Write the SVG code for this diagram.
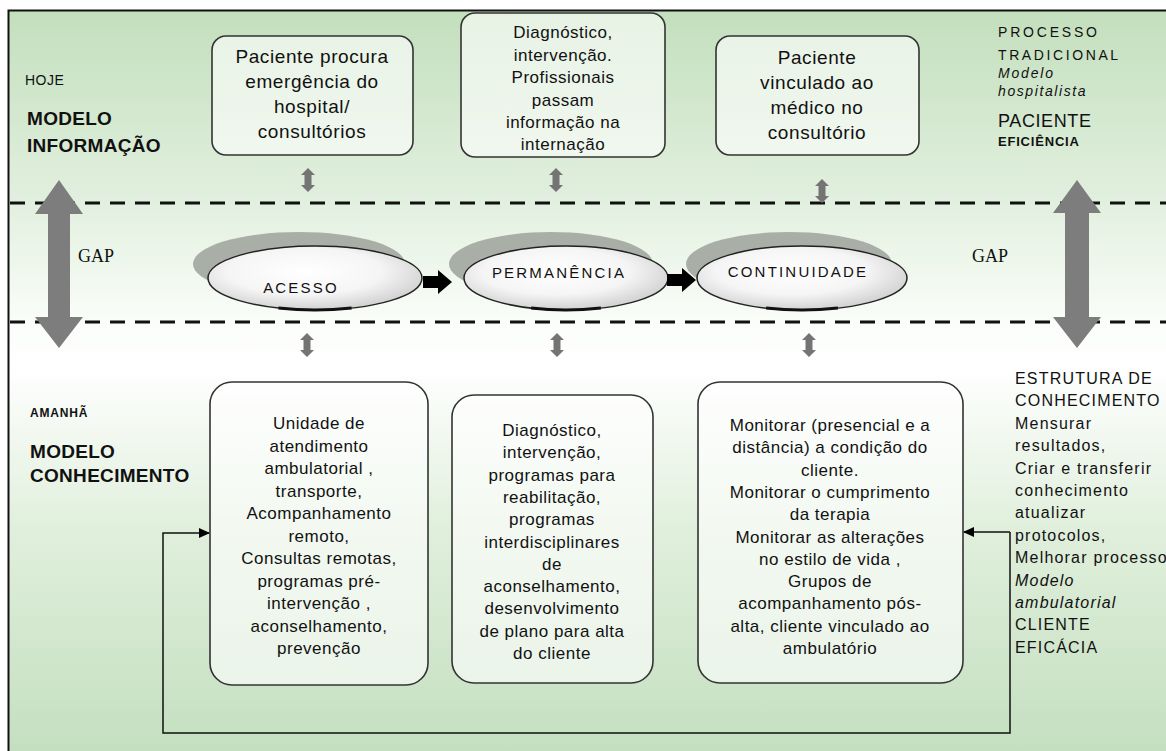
<svg xmlns="http://www.w3.org/2000/svg" width="1166" height="751" viewBox="0 0 1166 751">
<defs>
  <linearGradient id="bg" gradientUnits="userSpaceOnUse" x1="0" y1="11" x2="0" y2="751">
    <stop offset="0" stop-color="#c3dfbd"/>
    <stop offset="0.26" stop-color="#e2f0df"/>
    <stop offset="0.42" stop-color="#fafdf9"/>
    <stop offset="0.48" stop-color="#ffffff"/>
    <stop offset="0.7" stop-color="#e0efdc"/>
    <stop offset="1" stop-color="#c4dfc0"/>
  </linearGradient>
  <radialGradient id="ellg" cx="0.45" cy="0.4" r="0.6">
    <stop offset="0" stop-color="#ffffff"/>
    <stop offset="0.6" stop-color="#f5f5f5"/>
    <stop offset="1" stop-color="#d2d2d2"/>
  </radialGradient>
  <marker id="ah" markerWidth="11" markerHeight="10" refX="10" refY="5" orient="auto" markerUnits="userSpaceOnUse">
    <path d="M0,0 L11,5 L0,10 Z" fill="#000"/>
  </marker>
  <path id="dbl" d="M0,-12 L7,-5 L3.5,-5 L3.5,5 L7,5 L0,12 L-7,5 L-3.5,5 L-3.5,-5 L-7,-5 Z"/>
  <path id="blk" d="M0,-6 L15,-6 L15,-12 L29,0 L15,12 L15,6 L0,6 Z"/>
</defs>
<style>
  .t { font-family: "Liberation Sans", Arial, sans-serif; fill: #111; }
  .bx { font-size: 17px; letter-spacing: 0.5px; text-anchor: middle; }
  .tb { font-size: 19px; letter-spacing: 0.6px; text-anchor: middle; }
  .rt { font-size: 16px; letter-spacing: 1.2px; }
  .hd { font-size: 19px; font-weight: bold; letter-spacing: 0.3px; }
  .box { fill: #ffffff; fill-opacity: 0.6; stroke: #333; stroke-width: 1.6; }
  .dash { stroke: #111; stroke-width: 3; stroke-dasharray: 15 10; fill: none; }
  .gap { fill: #7d7d7d; }
  .sm { fill: #747474; }
  .ell { fill: url(#ellg); stroke: #222; stroke-width: 1.5; }
  .shd { fill: #a9aea7; }
  .ebot { fill: none; stroke: #111; stroke-width: 3; }
  .et { font-size: 15px; letter-spacing: 2.2px; text-anchor: middle; }
  .conn { fill: none; stroke: #111; stroke-width: 1.5; }
  .gapt { font-family: "Liberation Serif", "Times New Roman", serif; font-size: 18px; fill: #111; }
</style>

<!-- background and frame -->
<rect x="9" y="11" width="1157" height="740" fill="url(#bg)"/>
<path d="M8.5,751 L8.5,10.5 L1166,10.5" fill="none" stroke="#111" stroke-width="2"/>

<!-- dashed boundaries -->
<g id="boundaries">
  <line class="dash" x1="10" y1="203" x2="1166" y2="203"/>
  <line class="dash" x1="10" y1="322" x2="1166" y2="322"/>
</g>

<!-- side labels -->
<g id="label-hoje">
  <text class="t" x="25" y="85" font-size="14" letter-spacing="0.5">HOJE</text>
  <text class="t hd" x="27" y="125">MODELO</text>
  <text class="t hd" x="27" y="152">INFORMAÇÃO</text>
</g>
<g id="label-amanha">
  <text class="t" x="30" y="417" font-size="12" font-weight="bold" letter-spacing="0.8">AMANHÃ</text>
  <text class="t hd" x="30" y="458">MODELO</text>
  <text class="t hd" x="30" y="482">CONHECIMENTO</text>
</g>
<g id="label-tradicional">
  <text class="t" x="998" y="37" font-size="14" letter-spacing="2.8">PROCESSO</text>
  <text class="t" x="998" y="60" font-size="14" letter-spacing="2.6">TRADICIONAL</text>
  <text class="t" x="998" y="78" font-size="14" font-style="italic" letter-spacing="1.8">Modelo</text>
  <text class="t" x="998" y="96" font-size="14" font-style="italic" letter-spacing="1.6">hospitalista</text>
  <text class="t" x="998" y="127" font-size="18" letter-spacing="0.6">PACIENTE</text>
  <text class="t" x="998" y="146" font-size="13" font-weight="bold" letter-spacing="0.8">EFICIÊNCIA</text>
</g>
<g id="label-estrutura">
  <text class="t rt" x="1015" y="384">ESTRUTURA DE</text>
  <text class="t rt" x="1015" y="406">CONHECIMENTO</text>
  <text class="t rt" x="1015" y="429">Mensurar</text>
  <text class="t rt" x="1015" y="451">resultados,</text>
  <text class="t rt" x="1015" y="474">Criar e transferir</text>
  <text class="t rt" x="1015" y="496">conhecimento</text>
  <text class="t rt" x="1015" y="518">atualizar</text>
  <text class="t rt" x="1015" y="541">protocolos,</text>
  <text class="t rt" x="1015" y="563">Melhorar processo</text>
  <text class="t rt" x="1015" y="586" font-style="italic">Modelo</text>
  <text class="t rt" x="1015" y="608" font-style="italic">ambulatorial</text>
  <text class="t rt" x="1015" y="630" letter-spacing="2">CLIENTE</text>
  <text class="t rt" x="1015" y="653" letter-spacing="2">EFICÁCIA</text>
</g>

<!-- GAP arrows -->
<g id="gap-left">
  <path class="gap" d="M59,180 L83,214 L70,214 L70,317 L83,317 L59,348 L35,317 L48,317 L48,214 L35,214 Z"/>
  <text class="gapt" x="78" y="262">GAP</text>
</g>
<g id="gap-right">
  <path class="gap" d="M1077,180 L1101,213 L1089,213 L1089,317 L1101,317 L1077,348 L1053,317 L1065,317 L1065,213 L1053,213 Z"/>
  <text class="gapt" x="972" y="262">GAP</text>
</g>

<!-- top boxes -->
<g id="top-acesso">
  <rect class="box" x="212" y="36" width="201" height="119" rx="14"/>
  <text class="t tb" x="312" y="63">Paciente procura</text>
  <text class="t tb" x="312" y="88">emergência do</text>
  <text class="t tb" x="312" y="113">hospital/</text>
  <text class="t tb" x="312" y="138">consultórios</text>
</g>
<g id="top-permanencia">
  <rect class="box" x="461" y="13" width="204" height="144" rx="14"/>
  <text class="t bx" x="563" y="38">Diagnóstico,</text>
  <text class="t bx" x="563" y="61">intervenção.</text>
  <text class="t bx" x="563" y="83">Profissionais</text>
  <text class="t bx" x="563" y="106">passam</text>
  <text class="t bx" x="563" y="128">informação na</text>
  <text class="t bx" x="563" y="150">internação</text>
</g>
<g id="top-continuidade">
  <rect class="box" x="716" y="36" width="203" height="119" rx="14"/>
  <text class="t tb" x="817" y="64">Paciente</text>
  <text class="t tb" x="817" y="89">vinculado ao</text>
  <text class="t tb" x="817" y="114">médico no</text>
  <text class="t tb" x="817" y="139">consultório</text>
</g>

<!-- small double arrows -->
<g id="small-arrows">
  <use href="#dbl" class="sm" x="308" y="180"/>
  <use href="#dbl" class="sm" x="556" y="180"/>
  <use href="#dbl" class="sm" x="822" y="191"/>
  <use href="#dbl" class="sm" x="307" y="345"/>
  <use href="#dbl" class="sm" x="557" y="345"/>
  <use href="#dbl" class="sm" x="809" y="345"/>
</g>

<!-- ellipses -->
<g id="acesso">
  <ellipse class="shd" cx="299" cy="264" rx="106" ry="32"/>
  <ellipse class="ell" cx="315" cy="278" rx="107" ry="32"/>
  <path class="ebot" d="M278.4,308.1 A107,32 0 0 0 351.6,308.1"/>
  <text class="t et" x="301" y="293">ACESSO</text>
</g>
<g id="permanencia">
  <ellipse class="shd" cx="551" cy="264" rx="102" ry="32"/>
  <ellipse class="ell" cx="566" cy="278" rx="102" ry="32"/>
  <path class="ebot" d="M531.1,308.1 A102,32 0 0 0 600.9,308.1"/>
  <text class="t et" x="559" y="278">PERMANÊNCIA</text>
</g>
<g id="continuidade">
  <ellipse class="shd" cx="789" cy="264" rx="103" ry="32"/>
  <ellipse class="ell" cx="802" cy="278" rx="105" ry="32"/>
  <path class="ebot" d="M766.1,308.1 A105,32 0 0 0 837.9,308.1"/>
  <text class="t et" x="798" y="277">CONTINUIDADE</text>
</g>

<!-- bottom boxes -->
<g id="bottom-acesso">
  <rect class="box" x="210" y="382" width="218" height="303" rx="22"/>
  <text class="t bx" x="319" y="429">Unidade de</text>
  <text class="t bx" x="319" y="451.5">atendimento</text>
  <text class="t bx" x="319" y="474">ambulatorial ,</text>
  <text class="t bx" x="319" y="496.5">transporte,</text>
  <text class="t bx" x="319" y="519">Acompanhamento</text>
  <text class="t bx" x="319" y="541.5">remoto,</text>
  <text class="t bx" x="319" y="564">Consultas remotas,</text>
  <text class="t bx" x="319" y="586.5">programas pré-</text>
  <text class="t bx" x="319" y="609">intervenção ,</text>
  <text class="t bx" x="319" y="631.5">aconselhamento,</text>
  <text class="t bx" x="319" y="654">prevenção</text>
</g>
<g id="bottom-permanencia">
  <rect class="box" x="452" y="395" width="201" height="288" rx="22"/>
  <text class="t bx" x="552" y="436">Diagnóstico,</text>
  <text class="t bx" x="552" y="458.3">intervenção,</text>
  <text class="t bx" x="552" y="480.6">programas para</text>
  <text class="t bx" x="552" y="502.9">reabilitação,</text>
  <text class="t bx" x="552" y="525.2">programas</text>
  <text class="t bx" x="552" y="547.5">interdisciplinares</text>
  <text class="t bx" x="552" y="569.8">de</text>
  <text class="t bx" x="552" y="592.1">aconselhamento,</text>
  <text class="t bx" x="552" y="614.4">desenvolvimento</text>
  <text class="t bx" x="552" y="636.7">de plano para alta</text>
  <text class="t bx" x="552" y="659">do cliente</text>
</g>
<g id="bottom-continuidade">
  <rect class="box" x="698" y="382" width="265" height="301" rx="22"/>
  <text class="t bx" x="830" y="431">Monitorar (presencial e a</text>
  <text class="t bx" x="830" y="453.3">distância) a condição do</text>
  <text class="t bx" x="830" y="475.6">cliente.</text>
  <text class="t bx" x="830" y="497.9">Monitorar o cumprimento</text>
  <text class="t bx" x="830" y="520.2">da terapia</text>
  <text class="t bx" x="830" y="542.5">Monitorar as alterações</text>
  <text class="t bx" x="830" y="564.8">no estilo de vida ,</text>
  <text class="t bx" x="830" y="587.1">Grupos de</text>
  <text class="t bx" x="830" y="609.4">acompanhamento pós-</text>
  <text class="t bx" x="830" y="631.7">alta, cliente vinculado ao</text>
  <text class="t bx" x="830" y="654">ambulatório</text>
</g>

<!-- connectors -->
<g id="connectors">
  <use href="#blk" fill="#000" x="423" y="282"/>
  <use href="#blk" fill="#000" x="667" y="280"/>
  <path class="conn" d="M1010,532 L1010,733 L163,733 L163,533 L209,533" marker-end="url(#ah)"/>
  <path class="conn" d="M1010,532 L964,532" marker-end="url(#ah)"/>
</g>
</svg>
